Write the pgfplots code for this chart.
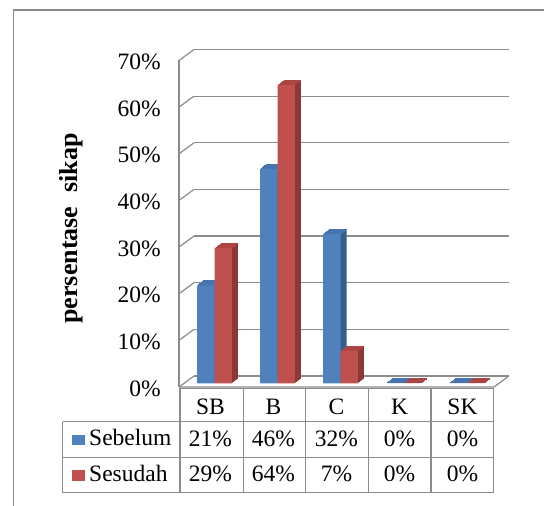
\documentclass[border=0pt]{standalone}
\usepackage{pgfplots}
\pgfplotsset{compat=1.18}
\usepackage{pgfplotstable}
\usepackage{fontspec}
\setmainfont{Liberation Serif}
\definecolor{bluef}{HTML}{4F81BD}
\definecolor{blues}{HTML}{385D8A}
\definecolor{bluet}{HTML}{4674AE}
\definecolor{redf}{HTML}{C0504D}
\definecolor{reds}{HTML}{8C3836}
\definecolor{redt}{HTML}{AC4441}
\definecolor{gridc}{HTML}{8C8C8C}
\definecolor{framec}{HTML}{8A8A8A}
\pgfplotstableread{
x sebelum sesudah
0 21 29
1 46 64
2 32 7
3 0 0
4 0 0
}\datatable
\pgfkeys{/pgf/number format/assume math mode=true}
\newcommand\tfont{\fontsize{23.5}{28}\selectfont}
\pgfplotsset{
  myaxis/.style={anchor=south west, scale only axis, x=63pt, y=4.664pt,
    xmin=-0.5, xmax=4.5, ymin=0, ymax=70, clip=false},
  mylayer/.style={myaxis, hide axis},
}
\begin{document}
\begin{tikzpicture}
\useasboundingbox (0,0) rectangle (544pt,506pt);
\draw[framec, line width=1.3pt] (13.5pt,0pt) -- (13.5pt,496pt) -- (546pt,496pt);
% back wall with gridlines
\begin{axis}[myaxis, at={(194pt,130pt)}, axis line style={draw=none}, tick style={draw=none},
  ytick={0,10,...,70}, yticklabels={}, xtick=\empty, ymajorgrids,
  major grid style={draw=gridc, line width=1.2pt}]
\end{axis}
% side wall and floor edges
\foreach \v in {0,10,...,70}{\draw[gridc, line width=1.2pt] (179pt,{119pt+4.664pt*\v}) -- ++(15pt,11pt);}
\draw[gridc, line width=1.2pt] (179pt,119pt) -- (179pt,445.5pt);
\draw[gridc, line width=1.2pt] (179pt,119pt) -- (494pt,119pt) -- (509pt,130pt);
% column depth layers
\foreach \k in {6,5,4,3,2,1}{
\pgfmathsetmacro\ax{183+\k}
\pgfmathsetmacro\ay{122.5+0.75*\k}
\begin{axis}[mylayer, at={(\ax pt,\ay pt)}]
\addplot[ybar, bar width=17.3pt, bar shift=-8.65pt, fill=blues, draw=none] table[x=x,y=sebelum]{\datatable};
\addplot[ybar, bar width=17.3pt, bar shift=8.65pt, fill=reds, draw=none] table[x=x,y=sesudah]{\datatable};
\addplot[only marks, mark=-, mark size=8.65pt, mark options={draw=bluet, line width=1.4pt}, xshift=-8.65pt] table[x=x,y=sebelum]{\datatable};
\addplot[only marks, mark=-, mark size=8.65pt, mark options={draw=redt, line width=1.4pt}, xshift=8.65pt] table[x=x,y=sesudah]{\datatable};
\end{axis}
}
% front faces
\begin{axis}[mylayer, at={(183pt,122.5pt)}]
\addplot[ybar, bar width=17.3pt, bar shift=-8.65pt, fill=bluef, draw=none] table[x=x,y=sebelum]{\datatable};
\addplot[ybar, bar width=17.3pt, bar shift=8.65pt, fill=redf, draw=none] table[x=x,y=sesudah]{\datatable};
\end{axis}
% data table lines
\begin{scope}[gridc, line width=1.3pt]
\foreach \cx in {180,243.6,305.3,368.5,431,493.4}{\draw (\cx pt,118pt) -- (\cx pt,13.3pt);}
\draw (179pt,117.6pt) -- (493.4pt,117.6pt);
\draw (62.7pt,84.3pt) -- (493.4pt,84.3pt);
\draw (62.7pt,48.7pt) -- (493.4pt,48.7pt);
\draw (62.7pt,13.3pt) -- (493.4pt,13.3pt);
\draw (62.7pt,84.3pt) -- (62.7pt,13.3pt);
\end{scope}
\fill[bluef] (72.3pt,61pt) rectangle (85pt,71pt);
\fill[redf] (72.3pt,25.3pt) rectangle (85pt,36pt);
\node[anchor=base west, inner sep=0pt] at (89pt,60.3pt) {\tfont Sebelum};
\node[anchor=base west, inner sep=0pt] at (89pt,24.3pt) {\tfont Sesudah};
\node[rotate=90] at (71.5pt,277.5pt) {\fontsize{26}{30}\selectfont\bfseries persentase\hspace{14pt}sikap};
% labels and table values
\begin{axis}[myaxis, at={(179pt,119pt)}, axis line style={draw=none}, tick style={draw=none},
  ytick={0,10,...,70}, yticklabel={\pgfmathprintnumber{\tick}\%},
  yticklabel style={anchor=east, inner sep=0pt, xshift=-18pt, yshift=-1.5pt, font=\tfont},
  xtick={0,...,4}, xticklabels={SB,B,C,K,SK},
  xticklabel style={anchor=base, inner sep=0pt, yshift=-28pt, font=\tfont}]
\addplot[draw=none, mark=none, nodes near coords={\pgfmathprintnumber{\pgfplotspointmeta}\%}, point meta=explicit,
  every node near coord/.append style={anchor=base, inner sep=0pt, yshift=-59.5pt, font=\tfont, text=black}]
  table[x=x, y expr=0, meta=sebelum]{\datatable};
\addplot[draw=none, mark=none, nodes near coords={\pgfmathprintnumber{\pgfplotspointmeta}\%}, point meta=explicit,
  every node near coord/.append style={anchor=base, inner sep=0pt, yshift=-94.7pt, font=\tfont, text=black}]
  table[x=x, y expr=0, meta=sesudah]{\datatable};
\end{axis}
\end{tikzpicture}
\end{document}
